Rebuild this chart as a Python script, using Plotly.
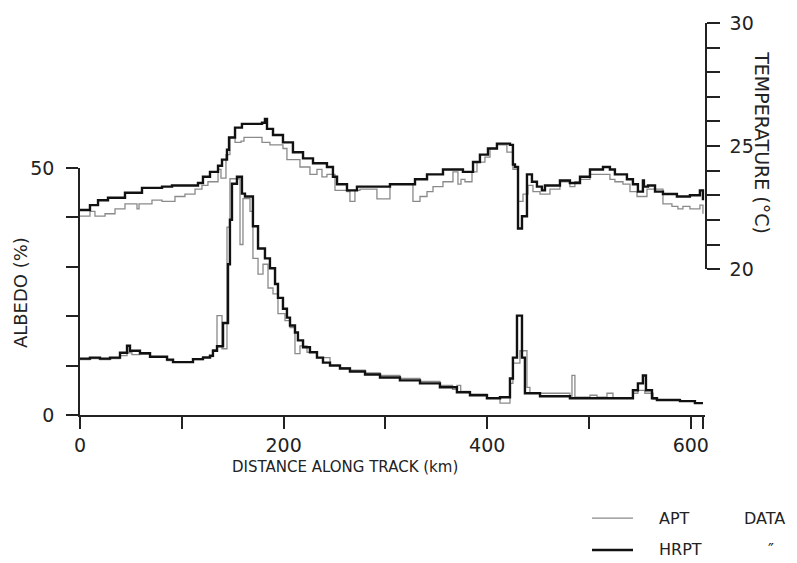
import plotly.graph_objects as go

# ---------------- data ----------------
# Temperature, HRPT (step series: start of each step in km, value in deg C)
temp_hrpt_km = [0, 9.8, 17.7, 27.5, 44.2, 60.9, 80.6, 90.4, 115.9, 120.8, 127.7, 135.6, 139.5,
                144.4, 146.4, 152.3, 159.1, 178.8, 181.7, 183.7, 189.6, 199.4, 209.2, 219.1,
                228.9, 242.6, 248.5, 252.5, 262.3, 272.1, 304.5, 329.1, 340.9, 356.6, 376.2,
                386.1, 392.9, 400.8, 409.6, 422.4, 425.3, 427.3, 430.3, 434.2, 439.1, 444.0,
                448.9, 453.8, 456.8, 471.5, 481.3, 491.2, 501.0, 513.8, 520.6, 525.5, 537.3,
                543.2, 548.1, 553.0, 554.0, 558.0, 564.9, 572.7, 586.4, 599.2, 609.0, 612.0]
temp_hrpt_val = [22.4, 22.6, 22.8, 22.9, 23.1, 23.3, 23.35, 23.4, 23.5, 23.75, 23.95, 24.2, 24.45,
                 24.85, 25.35, 25.75, 25.9, 25.95, 26.1, 25.7, 25.45, 25.15, 24.75, 24.5,
                 24.3, 24.15, 23.75, 23.45, 23.2, 23.35, 23.45, 23.65, 23.85, 24.05, 23.95,
                 24.35, 24.65, 24.9, 25.1, 25.05, 24.25, 24.15, 21.65, 22.15, 23.85, 23.55,
                 23.35, 23.2, 23.4, 23.6, 23.5, 23.75, 24.05, 24.15, 24.05, 23.85, 23.65,
                 23.45, 23.15, 23.6, 23.35, 23.4, 23.15, 23.05, 22.95, 23.0, 23.2, 22.8]

# Temperature, APT
temp_apt_km = [0, 9.8, 14.7, 24.6, 34.4, 44.2, 56.0, 58.0, 70.7, 80.6, 93.3, 103.1, 113.0,
               119.8, 125.7, 135.6, 138.5, 143.4, 147.3, 152.3, 158.2, 161.1, 178.8, 186.6,
               199.4, 203.3, 216.1, 225.9, 232.8, 237.7, 242.6, 250.5, 262.3, 265.2, 270.1,
               275.0, 291.7, 304.5, 327.1, 334.0, 340.9, 346.8, 356.6, 366.4, 371.3, 374.3,
               378.2, 385.1, 390.0, 397.8, 402.8, 409.6, 419.4, 425.3, 430.3, 435.2, 440.1,
               445.0, 451.9, 461.7, 471.5, 481.3, 486.2, 491.2, 501.0, 513.8, 520.6, 525.5,
               533.4, 540.3, 547.2, 557.0, 572.7, 581.5, 587.4, 592.3, 599.2, 609.0, 612.0]
temp_apt_val = [22.15, 22.35, 22.15, 22.25, 22.45, 22.65, 22.45, 22.65, 22.8, 22.75, 22.95, 23.05,
                23.25, 23.4, 23.55, 24.05, 23.7, 24.65, 25.35, 25.15, 25.2, 25.35, 25.15,
                25.05, 24.9, 24.45, 24.15, 23.85, 24.05, 23.75, 23.85, 23.2, 23.15, 22.75,
                23.2, 23.25, 22.85, 23.45, 22.75, 22.95, 23.15, 23.35, 23.55, 23.95, 23.45,
                23.65, 23.55, 23.95, 24.35, 24.55, 24.9, 25.05, 24.75, 24.05, 22.75, 23.05,
                23.4, 23.15, 23.05, 23.25, 23.55, 23.35, 23.55, 23.65, 23.85, 23.85, 23.65,
                23.55, 23.45, 23.15, 22.95, 23.25, 22.65, 22.55, 22.45, 22.55, 22.45, 22.6, 22.25]

# Albedo, HRPT
alb_hrpt_km = [0, 9.8, 19.6, 29.5, 39.3, 46.2, 49.1, 58.9, 68.8, 85.5, 91.4, 111.0, 120.8,
               127.7, 130.6, 134.6, 140.5, 145.4, 147.3, 149.3, 154.2, 159.1, 162.1, 169.9,
               174.9, 181.7, 186.6, 191.6, 194.5, 199.4, 203.3, 206.3, 211.2, 214.1, 219.1,
               225.9, 232.8, 238.7, 245.6, 255.4, 265.2, 280.0, 294.7, 314.3, 334.0, 353.6,
               370.3, 383.1, 399.8, 412.6, 422.4, 425.3, 429.3, 434.2, 437.1, 451.9, 481.3,
               543.2, 548.1, 553.0, 556.0, 561.9, 566.8, 589.4, 604.1, 612.0]
alb_hrpt_val = [11.4, 11.6, 11.4, 11.6, 12.6, 14.0, 13.0, 12.5, 11.8, 11.2, 10.7, 11.3, 11.6,
                12.0, 13.0, 13.9, 18.6, 30.5, 39.5, 46.8, 48.2, 44.8, 44.2, 38.2,
                33.7, 31.7, 29.7, 26.5, 23.7, 21.5, 19.7, 18.1, 16.7, 15.1, 13.7,
                12.7, 11.6, 10.6, 10.0, 9.4, 8.8, 8.2, 7.6, 7.0, 6.4, 5.6,
                4.6, 4.0, 3.4, 3.6, 7.4, 11.6, 20.1, 11.6, 4.4, 3.8, 3.4,
                5.0, 6.4, 8.0, 5.0, 3.4, 3.0, 2.8, 2.4, 2.4]

# Albedo, APT
alb_apt_km = [0, 9.8, 19.6, 29.5, 39.3, 46.2, 51.0, 58.9, 68.8, 85.5, 91.4, 111.0, 120.8,
              130.6, 134.6, 139.5, 144.4, 147.3, 157.2, 160.1, 167.0, 169.9, 174.9, 179.8,
              184.7, 189.6, 194.5, 201.4, 206.3, 211.2, 216.1, 223.0, 232.8, 245.6, 255.4,
              265.2, 280.0, 294.7, 314.3, 334.0, 353.6, 366.0, 370.3, 374.0, 383.1, 399.8,
              412.6, 422.4, 425.3, 432.2, 439.1, 442.0, 481.3, 483.3, 486.2, 501.0, 507.9,
              517.7, 523.6, 543.2, 548.1, 554.9, 563.0, 589.4, 604.1, 612.0]
alb_apt_val = [11.2, 11.4, 11.2, 11.4, 12.0, 12.6, 12.2, 12.3, 11.8, 11.0, 10.8, 11.2, 11.8,
               13.2, 20.1, 13.4, 38.0, 47.8, 34.5, 43.8, 41.2, 31.7, 28.5, 30.5,
               25.7, 24.5, 20.5, 19.1, 17.7, 12.4, 14.0, 12.7, 11.6, 10.2, 9.6,
               9.1, 8.5, 8.0, 7.4, 6.8, 6.0, 5.2, 6.0, 4.8, 4.2, 3.4,
               2.4, 6.4, 10.5, 13.0, 5.6, 4.4, 3.8, 8.0, 3.6, 4.0, 3.6,
               4.4, 3.4, 4.4, 5.0, 4.4, 3.2, 2.8, 2.4, 2.4]

x_ticks = [0, 100, 200, 300, 400, 500, 600, 612]
x_ticklabels = ["0", "", "200", "", "400", "", "600", ""]
alb_ticks = [0, 10, 20, 30, 40, 50]
alb_ticklabels = ["0", "", "", "", "", "50"]
temp_ticks = [20, 21, 22, 23, 24, 25, 26, 27, 28, 29, 30]
temp_ticklabels = ["20", "", "", "", "", "25", "", "", "", "", "30"]

APT_COLOR = "#8a8a8a"
HRPT_COLOR = "#111111"
TEXT = "#222222"
FONT = "DejaVu Sans"

fig = go.Figure()
fig.add_trace(go.Scatter(x=alb_apt_km, y=alb_apt_val, mode="lines", line=dict(shape="hv", color=APT_COLOR, width=1.3),
                         xaxis="x", yaxis="y", showlegend=False))
fig.add_trace(go.Scatter(x=alb_hrpt_km, y=alb_hrpt_val, mode="lines", line=dict(shape="hv", color=HRPT_COLOR, width=2.4),
                         xaxis="x", yaxis="y", showlegend=False))
fig.add_trace(go.Scatter(x=temp_apt_km, y=temp_apt_val, mode="lines", line=dict(shape="hv", color=APT_COLOR, width=1.3),
                         xaxis="x", yaxis="y2", showlegend=False))
fig.add_trace(go.Scatter(x=temp_hrpt_km, y=temp_hrpt_val, mode="lines", line=dict(shape="hv", color=HRPT_COLOR, width=2.4),
                         xaxis="x", yaxis="y2", showlegend=False))

axis_common = dict(showgrid=False, zeroline=False, showline=True, linecolor="#222", linewidth=1.5,
                   ticks="outside", tickcolor="#222", tickwidth=1.5,
                   tickfont=dict(family=FONT, size=19, color=TEXT))

fig.update_layout(
    width=797, height=563,
    margin=dict(l=80, r=92, t=20, b=148),
    paper_bgcolor="white", plot_bgcolor="rgba(0,0,0,0)",
    xaxis=dict(domain=[0, 1], range=[0, 614], anchor="y", tickvals=x_ticks, ticktext=x_ticklabels,
               ticklen=12, **axis_common),
    yaxis=dict(domain=[0, 249 / 395], range=[0, 50], anchor="x", tickvals=alb_ticks, ticktext=alb_ticklabels,
               ticklen=12, ticklabelstandoff=8, **axis_common),
    yaxis2=dict(domain=[147 / 395, 1], range=[20, 30], anchor="x", side="right", tickvals=temp_ticks,
                ticktext=temp_ticklabels, ticklen=13, ticklabelstandoff=6, **axis_common),
)

ann_font = dict(family=FONT, color=TEXT)
fig.add_annotation(text="DISTANCE ALONG TRACK (km)", xref="paper", yref="paper", x=0.424, y=-0.1316,
                   showarrow=False, font=dict(size=15, **ann_font), xanchor="center", yanchor="middle")
fig.add_annotation(text="ALBEDO (%)", xref="paper", yref="paper", x=-0.096, y=0.311, textangle=-90,
                   showarrow=False, font=dict(size=18, **ann_font), xanchor="center", yanchor="middle")
fig.add_annotation(text="TEMPERATURE (°C)", xref="paper", yref="paper", x=1.0912, y=0.696, textangle=90,
                   showarrow=False, font=dict(size=19, **ann_font), xanchor="center", yanchor="middle")

# legend (drawn manually)
fig.add_shape(type="line", xref="paper", yref="paper", x0=0.8192, x1=0.8848, y0=-0.2633, y1=-0.2633,
              line=dict(color=APT_COLOR, width=1.3))
fig.add_shape(type="line", xref="paper", yref="paper", x0=0.8192, x1=0.8848, y0=-0.3443, y1=-0.3443,
              line=dict(color=HRPT_COLOR, width=2.4))
for txt, x, y in [("APT", 0.9232, -0.2633), ("DATA", 1.0592, -0.2633), ("HRPT", 0.9232, -0.3443),
                  ("\u2033", 1.0976, -0.3443)]:
    fig.add_annotation(text=txt, xref="paper", yref="paper", x=x, y=y, showarrow=False,
                       font=dict(size=16, **ann_font), xanchor="left", yanchor="middle")

fig.write_html("out.html", config={"displayModeBar": False},
               post_script="document.body.style.margin='0';")
